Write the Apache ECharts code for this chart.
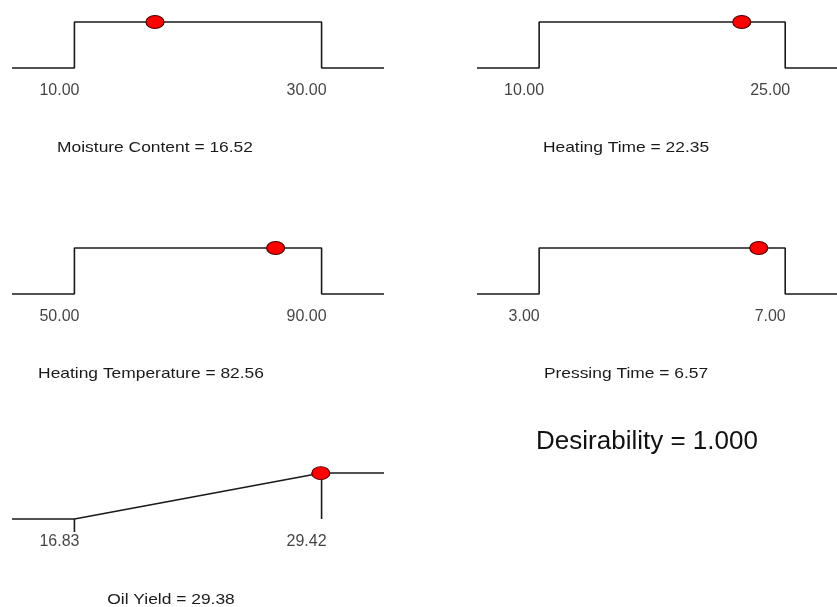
<!DOCTYPE html>
<html>
<head>
<meta charset="utf-8">
<script src="https://cdn.jsdelivr.net/npm/echarts@6/dist/echarts.min.js"></script>
<style>
  html, body { margin: 0; padding: 0; background: #fff; }
  #main { width: 837px; height: 607px; }
</style>
</head>
<body>
<div id="main"></div>
<script>
// 因子（范围内期望值=1）
const factorNames = ['Moisture Content', 'Heating Time', 'Heating Temperature', 'Pressing Time'];
const factorLow = [10, 10, 50, 3];
const factorHigh = [30, 25, 90, 7];
const factorValue = [16.52, 22.35, 82.56, 6.57];
// 响应（最大化）
const responseName = 'Oil Yield';
const responseLow = 16.83;
const responseHigh = 29.42;
const responseValue = 29.38;
const desirability = 1.000;

const myChart = echarts.init(document.getElementById('main'));

const FONT = '"Liberation Sans", Arial, sans-serif';
const EXT = 0.2525; // 两侧延伸比例
// 各面板位置 [left, top, width, 右侧延伸比例]（右列超出画布，截断）
const panelPos = [[12, 22, 372, EXT], [477, 22, 360, 0.2105], [12, 248, 372, EXT], [477, 248, 360, 0.2105], [12, 473, 372, EXT]];
const titlePos = [[155, 148], [626, 148], [151, 374], [626, 374], [171, 600]];

const grids = [], xAxes = [], yAxes = [], series = [], graphics = [];

function titleText(x, y, text) {
    return {
        type: 'text', x: x, y: y, scaleX: 1.16,
        style: {text: text, font: '15px ' + FONT, fill: '#1a1a1a',
            align: 'center', verticalAlign: 'middle', textAlign: 'center', textVerticalAlign: 'middle'}
    };
}

function addPanel(i, lo, hi, lineData, point, extraLines) {
    const span = hi - lo;
    const p = panelPos[i];
    grids.push({left: p[0], top: p[1], width: p[2], height: 46});
    xAxes.push({type: 'value', gridIndex: i, min: lo - span * EXT, max: hi + span * p[3], show: false});
    yAxes.push({type: 'value', gridIndex: i, min: 0, max: 1, show: false});
    [lineData].concat(extraLines || []).forEach(d => series.push({
        type: 'line', xAxisIndex: i, yAxisIndex: i, data: d,
        symbol: 'none', clip: false, silent: true,
        lineStyle: {color: '#1a1a1a', width: 1.6}
    }));
    // 刻度标签
    series.push({
        type: 'scatter', xAxisIndex: i, yAxisIndex: i, data: [[lo, 0], [hi, 0]],
        symbolSize: 0, clip: false, silent: true,
        label: {
            show: true, position: 'inside', offset: [-15, 23],
            formatter: p => p.value[0].toFixed(2),
            fontFamily: FONT, fontSize: 16, color: '#111', align: 'center', verticalAlign: 'middle'
        }
    });
    // 当前点
    series.push({
        type: 'scatter', xAxisIndex: i, yAxisIndex: i, data: [point],
        symbol: 'circle', symbolSize: [18, 13], clip: false, silent: true, z: 5,
        itemStyle: {color: '#ff0000', opacity: 1, borderColor: '#4a0000', borderWidth: 1}
    });
}

factorNames.forEach((name, i) => {
    const lo = factorLow[i], hi = factorHigh[i], span = hi - lo;
    const xmin = lo - span * EXT, xmax = hi + span * EXT;
    addPanel(i, lo, hi,
        [[xmin, 0], [lo, 0], [lo, 1], [hi, 1], [hi, 0], [xmax, 0]],
        [factorValue[i], 1]);
    graphics.push(titleText(titlePos[i][0], titlePos[i][1], name + ' = ' + factorValue[i].toFixed(2)));
});

(function () {
    const lo = responseLow, hi = responseHigh, span = hi - lo;
    const xmin = lo - span * EXT, xmax = hi + span * EXT;
    const d = Math.min(1, (responseValue - lo) / span);
    addPanel(4, lo, hi,
        [[xmin, 0], [lo, 0], [hi, 1], [xmax, 1]],
        [responseValue, d],
        [[[lo, 0], [lo, -0.28]], [[hi, 1], [hi, 0]]]);
    graphics.push(titleText(titlePos[4][0], titlePos[4][1], responseName + ' = ' + responseValue.toFixed(2)));
})();

graphics.push({
    type: 'text', x: 647, y: 442,
    style: {text: 'Desirability = ' + desirability.toFixed(3), font: '26px ' + FONT, fill: '#111',
        align: 'center', verticalAlign: 'middle', textAlign: 'center', textVerticalAlign: 'middle'}
});

const option = {
    animation: false,
    grid: grids,
    xAxis: xAxes,
    yAxis: yAxes,
    series: series,
    graphic: graphics
};

myChart.setOption(option);
</script>
</body>
</html>
